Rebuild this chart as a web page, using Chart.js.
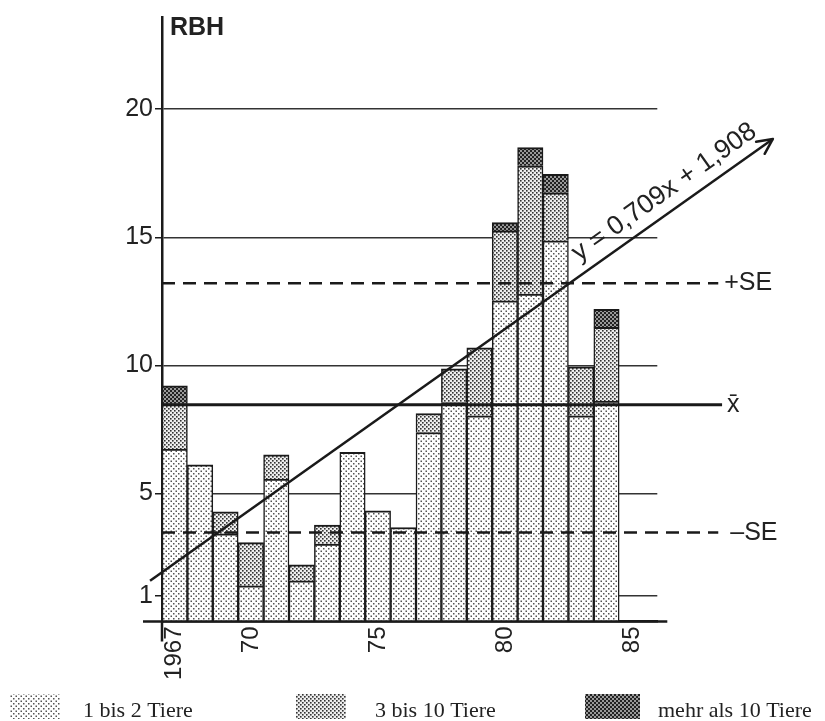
<!DOCTYPE html>
<html>
<head>
<meta charset="utf-8">
<script src="https://cdn.jsdelivr.net/npm/chart.js@4.4.1/dist/chart.umd.min.js"></script>
<style>
  html, body { margin: 0; padding: 0; background: #fff; }
</style>
</head>
<body>
<canvas id="chart" width="825" height="721"></canvas>
<script>
// --- Daten ---
const years = [1967, 1968, 1969, 1970, 1971, 1972, 1973, 1974, 1975, 1976, 1977, 1978, 1979, 1980, 1981, 1982, 1983, 1984];
const tiere1bis2 = [6.73, 6.12, 3.42, 1.39, 5.56, 1.59, 3.02, 6.60, 4.32, 3.67, 7.38, 8.55, 8.03, 12.52, 12.78, 14.86, 8.03, 8.61];
const tiere3bis10 = [1.77, null, 0.86, 1.69, 0.95, 0.62, 0.74, null, null, null, 0.74, 1.31, 2.65, 2.73, 5.01, 1.88, 1.91, 2.87];
const tiereUeber10 = [0.70, null, null, null, null, null, null, null, null, null, null, null, null, 0.32, 0.71, 0.72, null, 0.71];
const legendLabels = ['1 bis 2 Tiere', '3 bis 10 Tiere', 'mehr als 10 Tiere'];

const yTickValues = [1, 5, 10, 15, 20];
const xTickValues = [1967, 1970, 1975, 1980, 1985];

const mittelwert = 8.46;   // x̄
const plusSE = 13.21;
const minusSE = 3.47;
const meanLineX = [1966.5, 1988.55];
const seLineX = [1966.5, 1988.4];
const regLineX = [1966.03, 1990.55];
const regLineY = [1.59, 18.84];
const regLabel = 'y = 0,709x + 1,908';

// --- Muster ---
const ctx = document.getElementById('chart').getContext('2d');

function makePattern(bg, dot, size, pts, r) {
  const tile = document.createElement('canvas');
  tile.width = tile.height = size;
  const g = tile.getContext('2d');
  g.fillStyle = bg;
  g.fillRect(0, 0, size, size);
  g.fillStyle = dot;
  pts.forEach(([x, y]) => g.fillRect(x, y, r, r));
  return ctx.createPattern(tile, 'repeat');
}

const musterHell = makePattern('#fff', '#555', 5, [[0.5, 0.5], [3, 3]], 1.5);
const musterMittel = makePattern('#eee', '#333', 4, [[0, 0], [2, 2]], 1.6);
const musterDunkel = makePattern('#999', '#222', 4, [[0, 0], [2, 2]], 2);
const muster = [musterHell, musterMittel, musterDunkel];

const textColor = '#222';
const lineColor = '#1a1a1a';

function barSet(label, values, fill) {
  return {
    type: 'bar',
    label: label,
    data: years.map((yr, i) => ({ x: yr, y: values[i] })),
    backgroundColor: fill,
    borderColor: lineColor,
    borderWidth: { top: 2, left: 1.5, right: 1.5, bottom: 0 },
    borderSkipped: false,
    stack: 'tiere',
    barPercentage: 1,
    categoryPercentage: 1,
    order: 1
  };
}

function refLine(xs, value, width, dash) {
  return {
    type: 'line',
    data: [{ x: xs[0], y: value }, { x: xs[1], y: value }],
    borderColor: lineColor,
    borderWidth: width,
    borderDash: dash,
    pointRadius: 0,
    clip: false,
    order: 0
  };
}

const regression = {
  type: 'line',
  data: regLineX.map((x, i) => ({ x: x, y: regLineY[i] })),
  borderColor: lineColor,
  borderWidth: 2.5,
  pointRadius: 0,
  clip: false,
  order: 0
};

const legendLayout = [
  { x: 10, w: 50, tx: 83 },
  { x: 296, w: 50, tx: 375 },
  { x: 585, w: 55, tx: 658 }
];

const beschriftung = {
  id: 'beschriftung',
  afterDraw(chart) {
    const c = chart.ctx;
    const { left, top, right, bottom } = chart.chartArea;
    const sx = chart.scales.x, sy = chart.scales.y;
    c.save();

    // Achsen leicht verlängern
    c.strokeStyle = lineColor;
    c.lineWidth = 2.5;
    c.beginPath();
    c.moveTo(left - 19, bottom);
    c.lineTo(right + 10, bottom);
    c.moveTo(left, bottom);
    c.lineTo(left, bottom + 20);
    c.stroke();

    // Pfeilspitze der Regressionsgeraden
    const x0 = sx.getPixelForValue(regLineX[0]), y0 = sy.getPixelForValue(regLineY[0]);
    const x1 = sx.getPixelForValue(regLineX[1]), y1 = sy.getPixelForValue(regLineY[1]);
    const ang = Math.atan2(y1 - y0, x1 - x0);
    const head = 17, spread = 0.45;
    c.lineCap = 'round';
    c.lineJoin = 'round';
    c.beginPath();
    c.moveTo(x1 - head * Math.cos(ang - spread), y1 - head * Math.sin(ang - spread));
    c.lineTo(x1, y1);
    c.lineTo(x1 - head * Math.cos(ang + spread), y1 - head * Math.sin(ang + spread));
    c.stroke();

    c.fillStyle = textColor;
    c.font = 'bold 25px "Liberation Sans"';
    c.textAlign = 'left';
    c.textBaseline = 'alphabetic';
    c.fillText('RBH', left + 8, 35);

    c.font = '25px "Liberation Sans"';
    c.textBaseline = 'middle';
    c.fillText('+SE', sx.getPixelForValue(seLineX[1]) + 6, sy.getPixelForValue(plusSE));
    c.fillText('\u2013SE', sx.getPixelForValue(seLineX[1]) + 12, sy.getPixelForValue(minusSE));
    c.fillText('x\u0304', sx.getPixelForValue(meanLineX[1]) + 5, sy.getPixelForValue(mittelwert));

    // Gleichung der Regressionsgeraden
    const f = 0.70;
    const ax = x0 + (x1 - x0) * f, ay = y0 + (y1 - y0) * f;
    const off = 12;
    c.translate(ax + Math.sin(ang) * off, ay - Math.cos(ang) * off);
    c.rotate(ang);
    c.font = '26.5px "Liberation Sans"';
    c.textBaseline = 'alphabetic';
    c.fillText(regLabel, 0, 0);
    c.setTransform(1, 0, 0, 1, 0, 0);

    // Legende
    c.font = '22px "Liberation Serif"';
    legendLayout.forEach((item, i) => {
      c.fillStyle = muster[i];
      c.fillRect(item.x, 694, item.w, 25);
      c.fillStyle = textColor;
      c.fillText(legendLabels[i], item.tx, 717);
    });
    c.restore();
  }
};

new Chart(ctx, {
  data: {
    datasets: [
      regression,
      refLine(meanLineX, mittelwert, 3, []),
      refLine(seLineX, plusSE, 2.5, [13, 8]),
      refLine(seLineX, minusSE, 2.5, [13, 8]),
      barSet(legendLabels[0], tiere1bis2, musterHell),
      barSet(legendLabels[1], tiere3bis10, musterMittel),
      barSet(legendLabels[2], tiereUeber10, musterDunkel)
    ]
  },
  options: {
    responsive: false,
    animation: false,
    events: [],
    layout: { padding: { left: 100, top: 16, right: 167.7, bottom: 39.5 } },
    plugins: {
      legend: { display: false },
      tooltip: { enabled: false }
    },
    scales: {
      x: {
        type: 'linear',
        min: 1966.5,
        max: 1986,
        offset: false,
        afterBuildTicks: s => { s.ticks = xTickValues.map(v => ({ value: v })); },
        afterFit: s => { s.height = 60; },
        grid: { display: false, drawTicks: false, offset: false },
        border: { display: true, color: lineColor, width: 2.5 },
        ticks: {
          autoSkip: false,
          minRotation: 90,
          maxRotation: 90,
          padding: 5,
          color: textColor,
          font: { family: 'Liberation Sans', size: 24 },
          callback: v => (v === years[0] ? String(v) : String(v % 100))
        }
      },
      y: {
        type: 'linear',
        min: 0,
        max: 23.6,
        z: 1,
        afterBuildTicks: s => { s.ticks = yTickValues.map(v => ({ value: v })); },
        afterFit: s => { s.width = 62; },
        grid: { color: '#333', lineWidth: 1.5, drawTicks: true, tickLength: 7, tickColor: lineColor, tickWidth: 1.5 },
        border: { color: lineColor, width: 2.5 },
        ticks: {
          padding: 2,
          color: textColor,
          font: { family: 'Liberation Sans', size: 25 }
        }
      }
    }
  },
  plugins: [beschriftung]
});
</script>
</body>
</html>
